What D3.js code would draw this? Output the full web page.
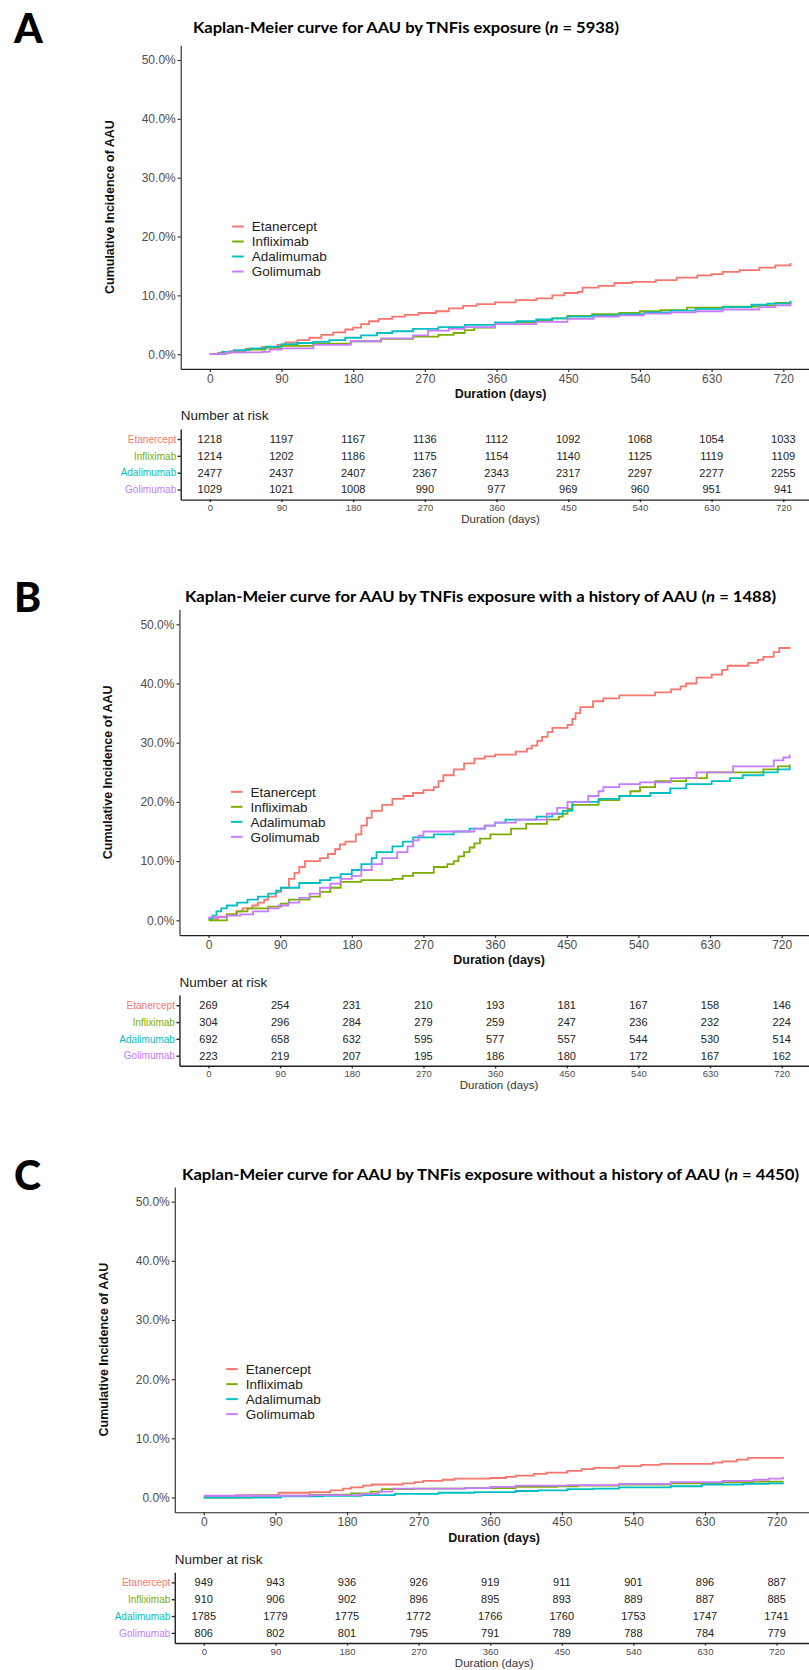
<!DOCTYPE html>
<html lang="en">

<head>
    <meta charset="UTF-8" />
    <script src="https://d3js.org/d3.v7.min.js"></script>
    <title>Kaplan-Meier curves for AAU</title>
    <style>
        body {
            margin: 0;
            background: #fff;
        }

        text {
            font-family: "Liberation Sans", Arial, sans-serif;
        }

        .panel-letter {
            font-family: Lato, "Open Sans", sans-serif;
            font-weight: 900;
            font-size: 41px;
        }

        .title {
            font-family: Lato, "Open Sans", sans-serif;
            font-weight: bold;
            font-size: 15px;
        }

        .axis text {
            fill: #4d4d4d;
            font-size: 12px;
        }

        .axis path,
        .axis line {
            stroke: #222;
            stroke-width: 1.1;
        }

        .axis-title {
            font-weight: bold;
            font-size: 12.5px;
            fill: #111;
        }

        .legend-text {
            font-size: 13.5px;
            fill: #222;
        }

        .risk-title {
            font-size: 13.5px;
            fill: #222;
        }

        .risk-num {
            font-size: 11px;
            fill: #222;
        }

        .risk-axis path,
        .risk-axis line {
            stroke: #222;
            stroke-width: 1.4;
        }

        .risk-axis.xaxis text {
            font-size: 9.5px;
            fill: #4d4d4d;
        }

        .risk-axis.yaxis text {
            font-size: 10px;
        }

        .risk-xtitle {
            font-size: 11.5px;
            fill: #333;
        }

        .curve {
            fill: none;
            stroke-width: 1.8;
        }
    </style>
</head>

<body>
    <svg id="chart" width="809" height="1670"></svg>
    <script>
        // categories and shared values
        const drugs = ["Etanercept", "Infliximab", "Adalimumab", "Golimumab"];
        const drugColors = ["#F8766D", "#7CAE00", "#00BFC4", "#C77CFF"];
        const xTicks = [0, 90, 180, 270, 360, 450, 540, 630, 720];
        const yTicks = [0, 10, 20, 30, 40, 50];
        const panelLetters = ["A", "B", "C"];
        const panelTitles = [
            "Kaplan-Meier curve for AAU by TNFis exposure",
            "Kaplan-Meier curve for AAU by TNFis exposure with a history of AAU",
            "Kaplan-Meier curve for AAU by TNFis exposure without a history of AAU"
        ];
        const panelN = [5938, 1488, 4450];

        // cumulative incidence in %, as [day, value]
        const aEtanercept = [[0, 0], [10, 0.2], [25, 0.5], [45, 0.9], [65, 1.2], [85, 1.6], [95, 2.0], [110, 2.4], [125, 2.8], [140, 3.3], [155, 3.7], [170, 4.2], [180, 4.5], [190, 5.1], [200, 5.6], [212, 6.0], [229, 6.4], [245, 6.7], [262, 7.0], [284, 7.3], [300, 7.8], [318, 8.2], [335, 8.5], [358, 8.8], [384, 9.2], [410, 9.5], [430, 10.0], [445, 10.4], [462, 10.6], [468, 11.3], [488, 11.6], [508, 12.1], [530, 12.3], [560, 12.6], [586, 13.0], [612, 13.4], [630, 13.6], [644, 14.0], [665, 14.3], [690, 14.7], [710, 15.1], [729, 15.5]];
        const aInfliximab = [[0, 0], [20, 0.3], [45, 0.8], [70, 1.1], [90, 1.4], [130, 1.8], [177, 2.2], [215, 2.6], [255, 3.0], [287, 3.3], [306, 3.6], [320, 4.1], [332, 4.5], [358, 5.1], [385, 5.4], [410, 5.8], [430, 6.1], [449, 6.5], [480, 6.8], [514, 7.0], [540, 7.3], [566, 7.5], [599, 7.9], [644, 8.1], [690, 8.3], [710, 8.7], [729, 9.0]];
        const aAdalimumab = [[0, 0], [15, 0.4], [30, 0.7], [50, 1.0], [70, 1.3], [90, 1.7], [110, 1.9], [130, 2.1], [150, 2.4], [170, 2.8], [190, 3.2], [210, 3.6], [229, 3.9], [255, 4.3], [287, 4.6], [320, 5.0], [358, 5.4], [385, 5.6], [410, 5.9], [430, 6.1], [449, 6.4], [480, 6.6], [514, 6.8], [545, 7.1], [579, 7.4], [610, 7.7], [644, 8.0], [680, 8.4], [700, 8.6], [729, 9.1]];
        const aGolimumab = [[0, 0], [20, 0.3], [66, 0.4], [75, 0.8], [90, 1.0], [130, 1.6], [177, 2.2], [215, 2.7], [255, 3.2], [274, 4.0], [300, 4.3], [320, 4.6], [358, 5.1], [410, 5.5], [449, 6.0], [482, 6.4], [514, 6.6], [545, 6.9], [579, 7.1], [610, 7.3], [644, 7.6], [690, 8.0], [710, 8.3], [729, 8.7]];

        const bEtanercept = [[0, 0.2], [12, 0.6], [23, 1.0], [35, 1.5], [43, 2.0], [55, 2.5], [62, 3.0], [70, 3.5], [75, 4.0], [85, 4.8], [91, 5.5], [101, 7.0], [108, 8.0], [114, 9.0], [121, 10.0], [140, 10.5], [150, 11.2], [159, 12.0], [165, 12.8], [172, 13.3], [185, 14.5], [192, 16.0], [199, 17.3], [205, 18.5], [218, 19.5], [231, 20.5], [245, 21.0], [257, 21.5], [270, 22.0], [283, 22.5], [289, 23.5], [295, 24.5], [308, 25.5], [321, 26.5], [334, 27.3], [347, 27.7], [360, 28.0], [386, 28.5], [400, 29.0], [406, 29.5], [413, 30.3], [419, 31.0], [426, 31.8], [432, 32.5], [451, 33.0], [457, 34.0], [461, 35.0], [467, 36.0], [483, 37.0], [496, 37.5], [516, 38.0], [561, 38.5], [581, 39.0], [593, 39.5], [600, 40.0], [613, 41.0], [632, 41.5], [645, 42.3], [652, 43.0], [678, 43.5], [690, 44.0], [697, 44.5], [710, 45.3], [717, 46.0], [730, 46.2]];
        const bInfliximab = [[0, 0], [17, 0], [23, 1.0], [36, 1.5], [49, 2.0], [75, 2.3], [91, 2.8], [101, 3.5], [127, 4.0], [140, 4.8], [153, 5.5], [166, 6.5], [192, 6.8], [231, 7.0], [244, 7.5], [257, 8.0], [283, 9.0], [300, 9.5], [308, 10.0], [314, 10.8], [321, 11.5], [328, 12.3], [334, 13.0], [341, 13.8], [354, 14.5], [380, 15.5], [399, 16.3], [425, 17.0], [440, 17.5], [445, 18.0], [451, 18.8], [457, 19.5], [490, 20.3], [516, 21.0], [530, 21.8], [542, 22.5], [561, 23.5], [600, 24.0], [626, 25.0], [665, 25.0], [697, 25.5], [715, 26.0], [730, 26.3]];
        const bAdalimumab = [[0, 0.3], [5, 0.8], [10, 1.5], [16, 2.0], [23, 2.5], [36, 3.0], [49, 3.5], [62, 4.0], [75, 4.5], [85, 5.0], [91, 5.5], [114, 6.3], [140, 6.8], [153, 7.2], [166, 7.8], [180, 8.5], [192, 9.5], [205, 10.5], [211, 11.5], [231, 12.5], [244, 13.3], [257, 14.0], [283, 14.5], [308, 15.0], [328, 15.5], [347, 16.0], [360, 16.5], [373, 17.0], [412, 17.5], [432, 18.0], [445, 18.5], [457, 20.0], [490, 20.5], [516, 21.0], [555, 21.5], [580, 22.3], [600, 23.0], [632, 23.5], [655, 24.0], [671, 24.5], [697, 25.0], [715, 25.5], [730, 26.0]];
        const bGolimumab = [[0, 0.5], [23, 0.8], [40, 1.0], [56, 1.5], [75, 2.0], [88, 2.5], [100, 3.0], [114, 3.8], [127, 4.5], [140, 5.5], [153, 6.2], [166, 7.0], [180, 7.5], [192, 8.5], [205, 9.5], [218, 10.5], [237, 11.5], [250, 12.5], [257, 13.5], [264, 14.3], [270, 15.0], [295, 15.0], [334, 15.5], [347, 16.0], [360, 16.5], [386, 17.0], [425, 18.0], [438, 19.0], [451, 20.0], [477, 21.0], [490, 21.8], [496, 22.5], [516, 23.0], [542, 23.3], [581, 24.0], [613, 25.0], [659, 26.0], [710, 27.0], [722, 27.5], [730, 28.0]];

        const cEtanercept = [[0, 0.1], [40, 0.4], [94, 0.8], [133, 0.9], [159, 1.2], [175, 1.5], [185, 1.7], [200, 2.0], [211, 2.2], [250, 2.4], [265, 2.6], [276, 2.8], [300, 3.0], [315, 3.2], [360, 3.3], [380, 3.5], [392, 3.7], [415, 4.0], [431, 4.2], [457, 4.5], [475, 4.8], [490, 5.0], [522, 5.3], [550, 5.5], [574, 5.7], [613, 5.7], [640, 5.9], [652, 6.1], [670, 6.4], [684, 6.7], [728, 6.9]];
        const cInfliximab = [[0, 0], [60, 0.3], [133, 0.5], [185, 0.7], [210, 1.0], [224, 1.4], [263, 1.5], [328, 1.6], [392, 1.8], [444, 1.9], [470, 2.0], [522, 2.2], [587, 2.4], [652, 2.6], [690, 2.7], [728, 2.8]];
        const cAdalimumab = [[0, 0], [97, 0.2], [150, 0.3], [198, 0.4], [240, 0.6], [295, 0.8], [340, 0.9], [392, 1.1], [420, 1.2], [457, 1.4], [490, 1.5], [522, 1.7], [587, 1.9], [626, 2.2], [678, 2.3], [710, 2.4], [728, 2.5]];
        const cGolimumab = [[0, 0.3], [133, 0.4], [198, 0.6], [220, 1.0], [237, 1.5], [328, 1.6], [360, 1.8], [392, 2.0], [457, 2.1], [522, 2.3], [587, 2.6], [652, 2.8], [691, 3.0], [710, 3.2], [728, 3.5]];

        // number at risk, rows follow drugs order, columns follow xTicks
        const riskA = [
            [1218, 1197, 1167, 1136, 1112, 1092, 1068, 1054, 1033],
            [1214, 1202, 1186, 1175, 1154, 1140, 1125, 1119, 1109],
            [2477, 2437, 2407, 2367, 2343, 2317, 2297, 2277, 2255],
            [1029, 1021, 1008, 990, 977, 969, 960, 951, 941]
        ];
        const riskB = [
            [269, 254, 231, 210, 193, 181, 167, 158, 146],
            [304, 296, 284, 279, 259, 247, 236, 232, 224],
            [692, 658, 632, 595, 577, 557, 544, 530, 514],
            [223, 219, 207, 195, 186, 180, 172, 167, 162]
        ];
        const riskC = [
            [949, 943, 936, 926, 919, 911, 901, 896, 887],
            [910, 906, 902, 896, 895, 893, 889, 887, 885],
            [1785, 1779, 1775, 1772, 1766, 1760, 1753, 1747, 1741],
            [806, 802, 801, 795, 791, 789, 788, 784, 779]
        ];

        // where each panel sits on the page
        const panels = [
            { curves: [aEtanercept, aInfliximab, aAdalimumab, aGolimumab], risk: riskA, x0: 209.8, x720: 783.3, y0: 354.2, y50: 60, titleX: 193, titleY: 28, titleW: 426, letterY: 43 },
            { curves: [bEtanercept, bInfliximab, bAdalimumab, bGolimumab], risk: riskB, x0: 208.5, x720: 781.7, y0: 920.3, y50: 624.3, titleX: 185, titleY: 597, titleW: 591, letterY: 612 },
            { curves: [cEtanercept, cInfliximab, cAdalimumab, cGolimumab], risk: riskC, x0: 203.8, x720: 776.6, y0: 1497.5, y50: 1201.7, titleX: 182, titleY: 1175, titleW: 617, letterY: 1190 }
        ];

        const svg = d3.select("#chart");

        panels.forEach((p, i) => drawPanel(p, i));

        function drawPanel(p, i) {
            const g = svg.append("g");

            // ggplot-style expanded scales
            const xs = d3.scaleLinear().domain([0, 720]).range([p.x0, p.x720]);
            const x = d3.scaleLinear().domain([-36.5, 766.5]).range([xs(-36.5), xs(766.5)]);
            const ys = d3.scaleLinear().domain([0, 50]).range([p.y0, p.y50]);
            const y = d3.scaleLinear().domain([-2.5, 52.5]).range([ys(-2.5), ys(52.5)]);
            const left = x.range()[0];
            const top = y.range()[1];
            const bottom = y.range()[0];

            g.append("text")
                .attr("class", "panel-letter")
                .attr("x", 14)
                .attr("y", p.letterY)
                .text(panelLetters[i]);

            const title = g.append("text")
                .attr("class", "title")
                .attr("x", p.titleX)
                .attr("y", p.titleY)
                .attr("dy", "0.36em")
                .attr("textLength", p.titleW)
                .attr("lengthAdjust", "spacingAndGlyphs");
            title.append("tspan").text(panelTitles[i] + " (");
            title.append("tspan").attr("font-style", "italic").text("n");
            title.append("tspan").text(" = " + panelN[i] + ")");

            // axes
            g.append("g")
                .attr("class", "axis")
                .attr("transform", `translate(0,${bottom})`)
                .call(d3.axisBottom(x).tickValues(xTicks).tickSize(3).tickSizeOuter(0).tickPadding(2.6));

            g.append("g")
                .attr("class", "axis")
                .attr("transform", `translate(${left},0)`)
                .call(d3.axisLeft(y).tickValues(yTicks).tickFormat(d => d.toFixed(1) + "%").tickSize(3).tickSizeOuter(0).tickPadding(2));

            g.append("text")
                .attr("class", "axis-title")
                .attr("x", (left + x.range()[1]) / 2)
                .attr("y", bottom + 25)
                .attr("dy", "0.35em")
                .attr("text-anchor", "middle")
                .text("Duration (days)");

            g.append("text")
                .attr("class", "axis-title")
                .attr("transform", `translate(${left - 71.5},${(top + bottom) / 2}) rotate(-90)`)
                .attr("dy", "0.35em")
                .attr("text-anchor", "middle")
                .text("Cumulative Incidence of AAU");

            // step curves
            const line = d3.line()
                .x(d => x(d[0]))
                .y(d => y(d[1]))
                .curve(d3.curveStepAfter);

            g.selectAll("path.curve")
                .data(p.curves)
                .join("path")
                .attr("class", "curve")
                .attr("stroke", (d, k) => drugColors[k])
                .attr("d", line);

            // legend
            const legendY = y(21.7);
            drugs.forEach((name, k) => {
                const ly = legendY + k * 15;
                g.append("line")
                    .attr("x1", left + 51.5)
                    .attr("x2", left + 63)
                    .attr("y1", ly)
                    .attr("y2", ly)
                    .attr("stroke", drugColors[k])
                    .attr("stroke-width", 2);
                g.append("text")
                    .attr("class", "legend-text")
                    .attr("x", left + 71)
                    .attr("y", ly)
                    .attr("dy", "0.36em")
                    .text(name);
            });

            // number at risk table
            const tableAxisY = bottom + 130.7;
            const rowScale = d3.scalePoint()
                .domain(drugs)
                .range([tableAxisY - 70.7, tableAxisY])
                .padding(0.6);

            g.append("text")
                .attr("class", "risk-title")
                .attr("x", left)
                .attr("y", tableAxisY - 84)
                .attr("dy", "0.36em")
                .text("Number at risk");

            g.append("g")
                .attr("class", "risk-axis xaxis")
                .attr("transform", `translate(0,${tableAxisY})`)
                .call(d3.axisBottom(x).tickValues(xTicks).tickSize(2.5).tickSizeOuter(0).tickPadding(2.3));

            const yAxisG = g.append("g")
                .attr("class", "risk-axis yaxis")
                .attr("transform", `translate(${left},0)`)
                .call(d3.axisLeft(rowScale).tickSize(3).tickSizeOuter(0).tickPadding(1.5));
            yAxisG.selectAll(".tick text").attr("fill", (d, k) => drugColors[k]);

            p.risk.forEach((row, k) => {
                g.selectAll(null)
                    .data(row)
                    .join("text")
                    .attr("class", "risk-num")
                    .attr("x", (d, j) => x(xTicks[j]))
                    .attr("y", rowScale(drugs[k]))
                    .attr("dy", "0.36em")
                    .attr("text-anchor", "middle")
                    .text(d => d);
            });

            g.append("text")
                .attr("class", "risk-xtitle")
                .attr("x", (left + x.range()[1]) / 2)
                .attr("y", tableAxisY + 19.5)
                .attr("dy", "0.35em")
                .attr("text-anchor", "middle")
                .text("Duration (days)");
        }
    </script>
</body>

</html>
